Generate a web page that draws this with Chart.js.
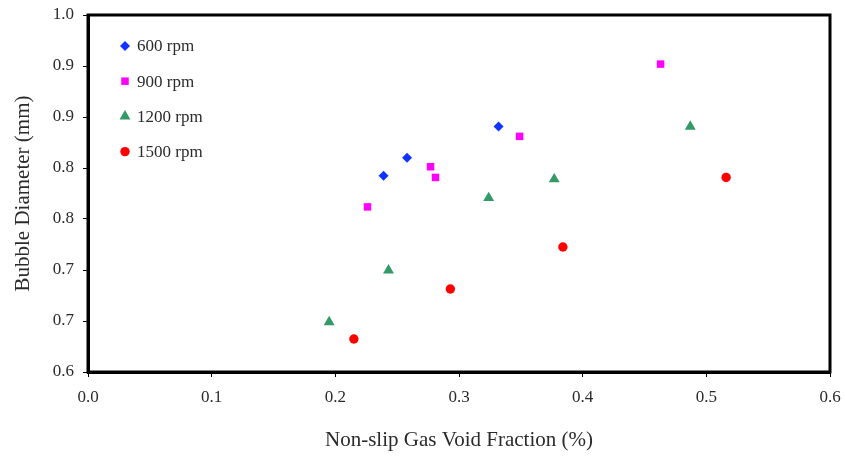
<!DOCTYPE html>
<html>
<head>
<meta charset="utf-8">
<script src="https://cdn.jsdelivr.net/npm/chart.js@4.4.1/dist/chart.umd.min.js"></script>
<style>
  html, body { margin: 0; padding: 0; background: #fff; }
  canvas { display: block; }
</style>
</head>
<body>
<canvas id="bubbleChart" width="845" height="457"></canvas>
<script>
/* ---- data ---- */
const seriesNames = ["600 rpm", "900 rpm", "1200 rpm", "1500 rpm"];

const rpm600X  = [0.239, 0.258, 0.332];
const rpm600Y  = [0.820, 0.840, 0.875];

const rpm900X  = [0.226, 0.277, 0.281, 0.349, 0.463];
const rpm900Y  = [0.785, 0.830, 0.818, 0.864, 0.945];

const rpm1200X = [0.195, 0.243, 0.324, 0.377, 0.487];
const rpm1200Y = [0.656, 0.714, 0.795, 0.816, 0.875];

const rpm1500X = [0.215, 0.293, 0.384, 0.516];
const rpm1500Y = [0.637, 0.693, 0.740, 0.818];

const xTickLabels = ["0.0", "0.1", "0.2", "0.3", "0.4", "0.5", "0.6"];
const yTickLabels = ["0.6", "0.7", "0.7", "0.8", "0.8", "0.9", "0.9", "1.0"];

const FONT = "'Liberation Serif', 'Times New Roman', serif";
const TEXT = "#2b2b2b";

function pts(xs, ys) {
  return xs.map((x, i) => ({ x, y: ys[i] }));
}

function makeSeries(label, data, color, style, radius) {
  return {
    label,
    data,
    pointStyle: style,
    pointRadius: radius,
    pointHoverRadius: radius,
    pointBackgroundColor: color,
    pointBorderColor: color,
    pointBorderWidth: 0,
    showLine: false
  };
}

/* ---- box round the plot + legend inside it ---- */
const frameAndLegend = {
  id: "frameAndLegend",
  afterDraw(chart) {
    const { ctx, chartArea: a } = chart;
    ctx.save();
    ctx.strokeStyle = "#000";
    ctx.lineWidth = 3;
    ctx.strokeRect(a.left, a.top, a.right - a.left, a.bottom - a.top);

    chart.data.datasets.forEach((ds, i) => {
      const y = a.top + 31 + i * 35.2;
      const x = a.left + 37;
      ctx.fillStyle = ds.pointBackgroundColor;
      ctx.strokeStyle = ds.pointBorderColor;
      ctx.lineWidth = 0;
      if (Chart.helpers && Chart.helpers.drawPoint) {
        Chart.helpers.drawPoint(ctx, { pointStyle: ds.pointStyle, radius: ds.pointRadius, rotation: 0, borderWidth: 0 }, x, y);
      } else {
        ctx.beginPath(); ctx.arc(x, y, ds.pointRadius, 0, Math.PI * 2); ctx.fill();
      }
      ctx.fillStyle = TEXT;
      ctx.font = "17px " + FONT;
      ctx.textBaseline = "middle";
      ctx.textAlign = "left";
      ctx.fillText(ds.label, x + 12, y + 1);
    });
    ctx.restore();
  }
};

new Chart(document.getElementById("bubbleChart"), {
  type: "scatter",
  data: {
    datasets: [
      makeSeries(seriesNames[0], pts(rpm600X, rpm600Y), "#1034ff", "rectRot", 5),
      makeSeries(seriesNames[1], pts(rpm900X, rpm900Y), "#ff00ff", "rect", 5.3),
      makeSeries(seriesNames[2], pts(rpm1200X, rpm1200Y), "#339966", "triangle", 6.3),
      makeSeries(seriesNames[3], pts(rpm1500X, rpm1500Y), "#ff0000", "circle", 4.7)
    ]
  },
  options: {
    responsive: false,
    animation: false,
    devicePixelRatio: 1,
    layout: { padding: { left: 0, top: 15, right: 15, bottom: 0 } },
    plugins: {
      legend: { display: false },
      tooltip: { enabled: false }
    },
    scales: {
      x: {
        type: "linear",
        min: 0,
        max: 0.6,
        afterBuildTicks: s => { s.ticks = xTickLabels.map(t => ({ value: Number(t) })); },
        afterFit: s => { s.height = 85; s.paddingLeft = 0; s.paddingRight = 0; },
        grid: { drawOnChartArea: false, drawTicks: true, tickLength: 5, color: "#000", lineWidth: 1 },
        border: { display: true, color: "#000", width: 3 },
        ticks: {
          color: TEXT,
          padding: 10,
          font: { family: FONT, size: 17 },
          callback: (v, i) => xTickLabels[i]
        },
        title: {
          display: true,
          text: "Non-slip Gas Void Fraction (%)",
          color: TEXT,
          font: { family: FONT, size: 21 },
          padding: { top: 0, bottom: 4 }
        }
      },
      y: {
        type: "linear",
        min: 0.6,
        max: 1.0,
        afterBuildTicks: s => {
          const n = yTickLabels.length - 1;
          s.ticks = yTickLabels.map((_, i) => ({ value: 0.6 + (0.4 * i) / n }));
        },
        afterFit: s => { s.width = 88; s.paddingTop = 0; s.paddingBottom = 0; },
        grid: { drawOnChartArea: false, drawTicks: true, tickLength: 5, color: "#000", lineWidth: 1 },
        border: { display: true, color: "#000", width: 3 },
        ticks: {
          color: TEXT,
          padding: 9,
          font: { family: FONT, size: 17 },
          callback: (v, i) => yTickLabels[i]
        },
        title: {
          display: true,
          text: "Bubble Diameter (mm)",
          color: TEXT,
          font: { family: FONT, size: 21 },
          padding: { top: 11, bottom: 0 }
        }
      }
    }
  },
  plugins: [frameAndLegend]
});
</script>
</body>
</html>
